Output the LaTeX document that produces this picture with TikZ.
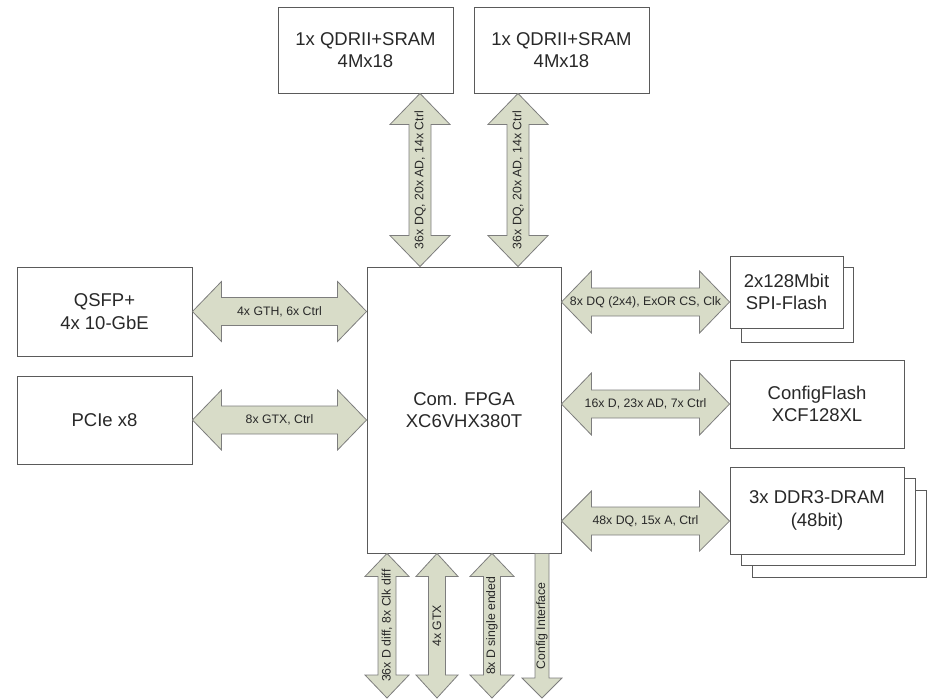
\documentclass[tikz,border=0pt]{standalone}
\usepackage{fontspec}
\setmainfont{Liberation Sans}
\usetikzlibrary{calc}
\definecolor{arrfill}{RGB}{216,220,200}
\definecolor{arrdraw}{RGB}{125,125,125}
\definecolor{boxdraw}{RGB}{90,90,90}
\definecolor{txt}{RGB}{40,40,40}
\tikzset{
  box/.style={draw=boxdraw, line width=0.9pt, fill=white, text=txt, align=center, inner sep=0pt,
    font=\fontsize{18.5}{22.5}\selectfont},
  barrow/.style={draw=arrdraw, line width=0.8pt, fill=arrfill, line join=miter},
  lbl/.style={text=txt, inner sep=0pt, font=\fontsize{12.3}{14}\selectfont},
}
% double block arrow: #1 start, #2 end, #3 head length, #4 head half width, #5 shaft half width
\newcommand{\DblArr}[5]{%
  \draw[barrow] (#1) -- ($(#1)!#3!(#2)!#4!90:(#2)$) -- ($(#1)!#3!(#2)!#5!90:(#2)$)
    -- ($(#2)!#3!(#1)!#5!-90:(#1)$) -- ($(#2)!#3!(#1)!#4!-90:(#1)$) -- (#2)
    -- ($(#2)!#3!(#1)!#4!90:(#1)$) -- ($(#2)!#3!(#1)!#5!90:(#1)$)
    -- ($(#1)!#3!(#2)!#5!-90:(#2)$) -- ($(#1)!#3!(#2)!#4!-90:(#2)$) -- cycle;}
% single block arrow, head at #2
\newcommand{\SglArr}[5]{%
  \draw[barrow] ($(#1)!#5!90:(#2)$) -- ($(#2)!#3!(#1)!#5!-90:(#1)$) -- ($(#2)!#3!(#1)!#4!-90:(#1)$)
    -- (#2) -- ($(#2)!#3!(#1)!#4!90:(#1)$) -- ($(#2)!#3!(#1)!#5!90:(#1)$)
    -- ($(#1)!#5!-90:(#2)$) -- cycle;}
\begin{document}
\begin{tikzpicture}[x=1pt, y=-1pt]
\useasboundingbox (0,0) rectangle (928,699);
% boxes
\node[box, minimum width=175, minimum height=86] (sram1) at (365.5,50) {1x QDRII+SRAM\\4Mx18};
\node[box, minimum width=175, minimum height=86] (sram2) at (561.5,50) {1x QDRII+SRAM\\4Mx18};
\node[box, minimum width=175, minimum height=89] (qsfp) at (104.5,311.5) {QSFP+\\4x 10-GbE};
\node[box, minimum width=175, minimum height=88] (pcie) at (104.5,420) {PCIe x8};
\node[box, minimum width=194, minimum height=286] (fpga) at (464,410) {Com. FPGA\\XC6VHX380T};
\node[box, minimum width=112, minimum height=75] (spib) at (797,304.5) {};
\node[box, minimum width=113, minimum height=72] (spi) at (786.5,292) {2x128Mbit\\SPI-Flash};
\node[box, minimum width=174, minimum height=88] (cfg) at (817,404) {ConfigFlash\\XCF128XL};
\node[box, minimum width=174, minimum height=87] (ddrc) at (839,533.5) {};
\node[box, minimum width=174, minimum height=87] (ddrb) at (828,522) {};
\node[box, minimum width=174, minimum height=87] (ddr) at (817,510.5) {3x DDR3-DRAM\\(48bit)};
% helper coordinates
\coordinate (cx1) at (420,0);
\coordinate (cx2) at (518,0);
\coordinate (cy1) at (0,302);
\coordinate (cy2) at (0,521);
\coordinate (b1) at (387,698);
\coordinate (b2) at (437,698);
\coordinate (b3) at (492,698);
\coordinate (b4) at (542,698);
% top arrows
\DblArr{sram1.south -| cx1}{fpga.north -| cx1}{31pt}{30pt}{11pt}
\path (sram1.south -| cx1) -- (fpga.north -| cx1) node[midway, lbl, rotate=90] {36x DQ, 20x AD, 14x Ctrl};
\DblArr{sram2.south -| cx2}{fpga.north -| cx2}{31pt}{30pt}{11pt}
\path (sram2.south -| cx2) -- (fpga.north -| cx2) node[midway, lbl, rotate=90] {36x DQ, 20x AD, 14x Ctrl};
% left arrows
\DblArr{qsfp.east}{fpga.west |- qsfp.east}{29pt}{30pt}{14pt}
\path (qsfp.east) -- (fpga.west |- qsfp.east) node[midway, lbl] {4x GTH, 6x Ctrl};
\DblArr{pcie.east}{fpga.west |- pcie.east}{29pt}{30pt}{14pt}
\path (pcie.east) -- (fpga.west |- pcie.east) node[midway, lbl] {8x GTX, Ctrl};
% right arrows
\DblArr{fpga.east |- cy1}{spi.west |- cy1}{30pt}{31pt}{14pt}
\path (fpga.east |- cy1) -- (spi.west |- cy1) node[midway, lbl] {8x DQ (2x4), ExOR CS, Clk};
\DblArr{fpga.east |- cfg.west}{cfg.west}{30pt}{31pt}{14pt}
\path (fpga.east |- cfg.west) -- (cfg.west) node[midway, lbl] {16x D, 23x AD, 7x Ctrl};
\DblArr{fpga.east |- cy2}{ddr.west |- cy2}{30pt}{30pt}{14pt}
\path (fpga.east |- cy2) -- (ddr.west |- cy2) node[midway, lbl] {48x DQ, 15x A, Ctrl};
% bottom arrows
\DblArr{fpga.south -| b1}{b1}{23pt}{22pt}{9pt}
\path (fpga.south -| b1) -- (b1) node[midway, lbl, rotate=90] {36x D diff, 8x Clk diff};
\DblArr{fpga.south -| b2}{b2}{23pt}{21pt}{8.5pt}
\path (fpga.south -| b2) -- (b2) node[midway, lbl, rotate=90] {4x GTX};
\DblArr{fpga.south -| b3}{b3}{23pt}{22pt}{8.5pt}
\path (fpga.south -| b3) -- (b3) node[midway, lbl, rotate=90] {8x D single ended};
\SglArr{fpga.south -| b4}{b4}{20pt}{20pt}{7pt}
\path (fpga.south -| b4) -- (b4) node[midway, lbl, rotate=90] {Config Interface};
\end{tikzpicture}
\end{document}
